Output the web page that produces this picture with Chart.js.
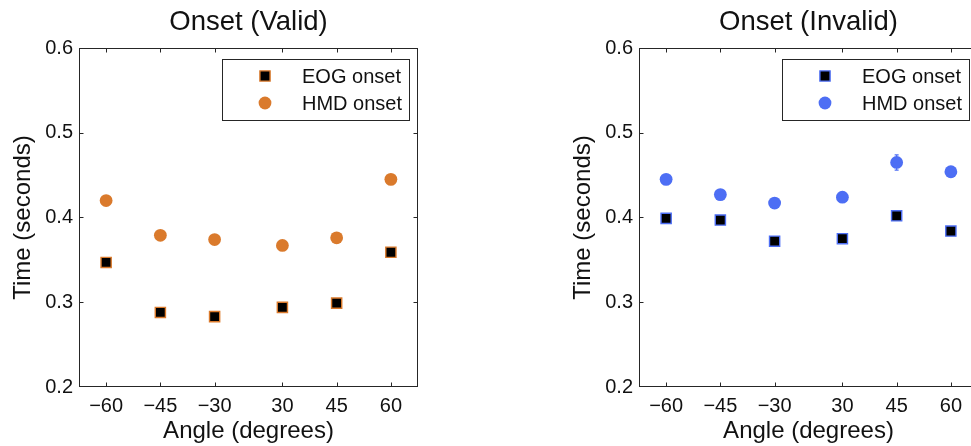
<!DOCTYPE html>
<html>
<head>
<meta charset="utf-8">
<script src="https://cdn.jsdelivr.net/npm/chart.js@4/dist/chart.umd.min.js"></script>
<style>
  html, body { margin: 0; padding: 0; background: #fff; overflow: hidden; }
  body { width: 971px; height: 446px; position: relative; }
  .panel { position: absolute; top: 0; width: 430px; height: 446px; }
</style>
</head>
<body>
<div class="panel" style="left:0"><canvas id="validChart" width="430" height="446"></canvas></div>
<div class="panel" style="left:560px"><canvas id="invalidChart" width="430" height="446"></canvas></div>
<script>
// ------------------------
// DATA
// ------------------------
const angleLabels = ['\u221260', '\u221245', '\u221230', '30', '45', '60'];
const anglePos = [1, 2, 3, 4.25, 5.25, 6.25];   // where each angle sits on the x axis
const yTicks = [0.2, 0.3, 0.4, 0.5, 0.6];

const validEOG = [0.347, 0.288, 0.283, 0.294, 0.299, 0.359];
const validHMD = [0.420, 0.379, 0.374, 0.367, 0.376, 0.445];
const validEOGErr = [0.003, 0.003, 0.003, 0.003, 0.003, 0.003];
const validHMDErr = [0.004, 0.004, 0.004, 0.004, 0.004, 0.004];

const invalidEOG = [0.399, 0.397, 0.372, 0.375, 0.402, 0.384];
const invalidHMD = [0.445, 0.427, 0.417, 0.424, 0.465, 0.454];
const invalidEOGErr = [0.003, 0.003, 0.003, 0.003, 0.003, 0.003];
const invalidHMDErr = [0.004, 0.004, 0.004, 0.004, 0.009, 0.004];

const FONT = '"Liberation Sans", Arial, Helvetica, sans-serif';
const AXIS = '#262626';

// ------------------------
// PLUGINS
// ------------------------
// matlab style box with inward ticks on all four sides
const boxPlugin = {
    id: 'boxPlugin',
    afterDatasetsDraw(chart){
        const {ctx, chartArea: a, scales} = chart;
        const L = Math.round(a.left) + 0.5, R = Math.round(a.right) - 0.5;
        const T = Math.round(a.top) + 0.5, B = Math.round(a.bottom) - 0.5;
        ctx.save();
        ctx.strokeStyle = AXIS;
        ctx.lineWidth = 1;
        ctx.strokeRect(L, T, R - L, B - T);
        const len = 4;
        ctx.beginPath();
        anglePos.forEach(v => {
            const x = Math.round(scales.x.getPixelForValue(v)) + 0.5;
            ctx.moveTo(x, B); ctx.lineTo(x, B - len);
            ctx.moveTo(x, T); ctx.lineTo(x, T + len);
        });
        // end ticks sit on the box edges, so only the inner ones
        yTicks.slice(1, -1).forEach(v => {
            const y = Math.round(scales.y.getPixelForValue(v)) + 0.5;
            ctx.moveTo(L, y); ctx.lineTo(L + len, y);
            ctx.moveTo(R, y); ctx.lineTo(R - len, y);
        });
        ctx.stroke();
        ctx.restore();
    }
};

// small vertical error bars behind the markers
const errorPlugin = {
    id: 'errorPlugin',
    beforeDatasetsDraw(chart){
        const {ctx, scales} = chart;
        ctx.save();
        ctx.lineWidth = 1.2;
        chart.data.datasets.forEach(ds => {
            if(!ds.errors) return;
            ctx.strokeStyle = ds.errorColor;
            ds.data.forEach((p, i) => {
                const x = scales.x.getPixelForValue(p.x);
                const y1 = scales.y.getPixelForValue(p.y - ds.errors[i]);
                const y2 = scales.y.getPixelForValue(p.y + ds.errors[i]);
                ctx.beginPath();
                ctx.moveTo(x, y1); ctx.lineTo(x, y2);
                ctx.moveTo(x - 2, y1); ctx.lineTo(x + 2, y1);
                ctx.moveTo(x - 2, y2); ctx.lineTo(x + 2, y2);
                ctx.stroke();
            });
        });
        ctx.restore();
    }
};

// legend box inside the top right corner
const legendBoxPlugin = {
    id: 'legendBoxPlugin',
    afterDraw(chart){
        const {ctx, chartArea: a} = chart;
        const w = 187, h = 61;
        const left = Math.round(a.right - 9 - w), top = Math.round(a.top + 11);
        ctx.save();
        ctx.fillStyle = '#fff';
        ctx.fillRect(left, top, w, h);
        ctx.strokeStyle = AXIS;
        ctx.lineWidth = 1;
        ctx.strokeRect(left + 0.5, top + 0.5, w, h);
        chart.data.datasets.forEach((ds, i) => {
            const cy = top + 17 + i * 27;
            const cx = left + 43;
            ctx.fillStyle = ds.backgroundColor;
            ctx.strokeStyle = ds.borderColor;
            ctx.lineWidth = ds.borderWidth;
            ctx.beginPath();
            if(ds.pointStyle === 'rect'){
                const s = ds.pointRadius * Math.SQRT1_2;
                ctx.rect(cx - s, cy - s, 2 * s, 2 * s);
            } else {
                ctx.arc(cx, cy, ds.pointRadius, 0, Math.PI * 2);
            }
            ctx.fill();
            if(ds.borderWidth) ctx.stroke();
            ctx.fillStyle = '#111';
            ctx.font = '20px ' + FONT;
            ctx.textBaseline = 'middle';
            ctx.textAlign = 'left';
            ctx.fillText(ds.label, left + 80, cy + 1);
        });
        ctx.restore();
    }
};

// ------------------------
// CHARTS
// ------------------------
function makeChart(id, title, eog, eogErr, hmd, hmdErr, color){
    const pts = arr => arr.map((v, i) => ({x: anglePos[i], y: v}));
    return new Chart(document.getElementById(id).getContext('2d'), {
        type: 'scatter',
        data: {
            datasets: [{
                label: 'EOG onset',
                data: pts(eog),
                errors: eogErr,
                errorColor: color,
                pointStyle: 'rect',
                pointRadius: 7.2,
                backgroundColor: '#000',
                borderColor: color,
                borderWidth: 1.4
            }, {
                label: 'HMD onset',
                data: pts(hmd),
                errors: hmdErr,
                errorColor: color,
                pointStyle: 'circle',
                pointRadius: 6.4,
                backgroundColor: color,
                borderColor: color,
                borderWidth: 0
            }]
        },
        options: {
            responsive: false,
            animation: false,
            layout: { padding: { left: 0, right: 12, top: 0, bottom: 0 } },
            plugins: {
                legend: { display: false },
                tooltip: { enabled: false },
                title: {
                    display: true,
                    fullSize: false,
                    text: title,
                    color: '#111',
                    font: { family: FONT, size: 27.5, weight: 'normal', lineHeight: 1.2 },
                    padding: { top: 6, bottom: 9 }
                }
            },
            scales: {
                x: {
                    type: 'linear',
                    min: 0.5,
                    max: 6.75,
                    afterBuildTicks: s => { s.ticks = anglePos.map(v => ({value: v})); },
                    afterFit: s => { s.height = 59; },
                    grid: { display: false, drawTicks: false },
                    border: { display: false },
                    ticks: {
                        padding: 7,
                        color: '#111',
                        font: { family: FONT, size: 20 },
                        callback: v => angleLabels[anglePos.indexOf(v)]
                    },
                    title: {
                        display: true,
                        text: 'Angle (degrees)',
                        color: '#111',
                        font: { family: FONT, size: 24, lineHeight: 1.2 },
                        padding: { top: 0, bottom: 0 }
                    }
                },
                y: {
                    min: 0.2,
                    max: 0.6,
                    afterBuildTicks: s => { s.ticks = yTicks.map(v => ({value: v})); },
                    afterFit: s => { s.width = 79; },
                    grid: { display: false, drawTicks: false },
                    border: { display: false },
                    ticks: {
                        padding: 6,
                        color: '#111',
                        font: { family: FONT, size: 20 },
                        callback: v => v.toFixed(1)
                    },
                    title: {
                        display: true,
                        text: 'Time (seconds)',
                        color: '#111',
                        font: { family: FONT, size: 24, lineHeight: 1.2 },
                        padding: { top: 9, bottom: 0 }
                    }
                }
            }
        },
        plugins: [errorPlugin, boxPlugin, legendBoxPlugin]
    });
}

makeChart('validChart', 'Onset (Valid)', validEOG, validEOGErr, validHMD, validHMDErr, '#DA7A2C');
makeChart('invalidChart', 'Onset (Invalid)', invalidEOG, invalidEOGErr, invalidHMD, invalidHMDErr, '#4D6EF4');
</script>
</body>
</html>
